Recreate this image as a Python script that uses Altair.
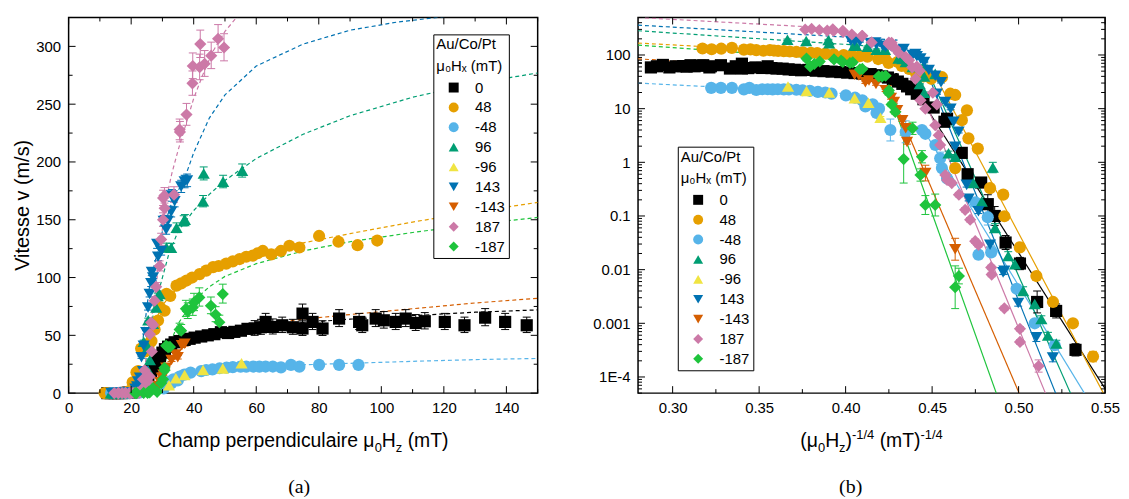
import altair as alt
import pandas as pd

SERIES = ["0", "48", "-48", "96", "-96", "143", "-143", "187", "-187"]
COLORS = ["#000000", "#E69F00", "#56B4E9", "#009E73", "#F0E442", "#0072B2", "#D55E00", "#CC79A7", "#1EC43C"]
SHAPES = ["square", "circle", "circle", "triangle-up", "triangle-up", "triangle-down", "triangle-down", "diamond", "diamond"]
SIZES = [80, 95, 95, 125, 125, 125, 125, 150, 150]
LEGEND_TITLE = ["Au/Co/Pt", "μ₀Hₓ (mT)"]

# ---- measured points: perpendicular field H (mT), velocity v (m/s), relative error e ----
H_0 = [12.4, 13.5, 14.7, 15.9, 17.0, 17.9, 18.5, 19.1, 20.4, 21.0, 22.6, 22.9, 24.2, 25.5, 26.4, 27.2, 27.8, 28.5, 29.2, 30.0,
       30.8, 31.8, 32.8, 33.9, 35.5, 37.1, 38.7, 40.3, 42.4, 44.5, 46.6, 48.7, 51.0, 53.0, 55.1, 57.2, 59.5, 61.5, 63.0, 65.3,
       68.3, 71.7, 74.8, 74.8, 78.0, 81.2, 86.5, 92.9, 93.9, 98.2, 100.8, 104.6, 107.8, 111.0, 113.9, 120.3, 126.6, 133.2, 139.6, 146.5]
V_0 = [3.2e-4, 1.7e-3, 2.5e-3, 0.013, 0.032, 0.10, 0.166, 0.42, 0.60, 1.5, 6.5, 5.7, 10.5, 15, 19, 23, 26, 29, 32, 35,
       38, 40, 42, 44, 45, 46, 47, 48, 49, 50, 51, 52.7, 52, 53, 54, 55.6, 56, 57, 61.6, 57.3,
       58.7, 57, 68.8, 55.9, 61.6, 55.9, 64.5, 61.6, 58.7, 64.5, 63, 61.6, 64.5, 60.7, 62.2, 61.6, 58.7, 65.3, 61.6, 58.7]
E_0 = [0.3, 0.35, 0.6, 0.3, 0.35, 0.5, 0.5, 0.15, 0.1, 0.1] + [0.04] * 22 + [0.07] * 4 + [0.12] * 24

H_48 = [11.5, 12.54, 13.69, 14.75, 15.91, 17.1, 17.19, 18.3, 19.41, 20.32, 20.99, 20.47, 21.7, 21.7, 22.24, 23.19, 24.5, 25.5,
        26.5, 27.5, 28.6, 29.2, 30.7, 31.3, 32.5, 34.5, 36.0, 37.7, 39.5, 41.9, 44.0, 46.2, 48.0, 50.4, 52.5, 54.7, 56.8, 58.9,
        60.5, 62.1, 64.8, 67.9, 70.6, 73.8, 80.1, 86.3, 92.4, 98.7]
V_48 = [2.4e-4, 1.0e-3, 2.5e-3, 7.6e-3, 0.026, 0.099, 0.25, 0.33, 1.8, 2.8, 6.1, 9.3, 0.78, 18, 19, 38.6, 36, 40,
        45, 55, 62.8, 74.5, 71.3, 86, 84, 93, 95, 97.4, 100, 103, 106, 109, 110, 112, 114, 116, 118, 119,
        121, 123, 120, 123, 127.5, 126, 136, 131, 128, 132]
E_48 = [0.25, 0.1, 0.1, 0.1, 0.1, 0.1, 0.05, 0.05, 0.05, 0.05, 0.03, 0.03, 0.1, 0.03, 0.03, 0.03] + [0.02] * 32

H_m48 = [13.59, 14.86, 16.15, 18.2, 19.35, 18.5, 19.64, 22.6, 23.2, 23.4, 23.98, 25.25, 25.7, 28.0, 30.4, 32.35, 32.8, 33.5,
         34.9, 35.5, 37.0, 39.0, 42.4, 44.0, 46.0, 48.3, 50.5, 52.5, 55.0, 56.8, 59.0, 61.0, 63.0, 65.3, 67.9, 71.1, 73.8,
         80.1, 86.5, 92.7]
V_m48 = [3.9e-4, 1.0e-3, 4.4e-3, 0.021, 0.019, 0.095, 0.18, 0.5, 0.78, 1.19, 2.1, 3.4, 4.0, 3.7, 4.0, 10, 8.3, 12,
         11, 14.3, 16, 17.7, 19, 20, 20.5, 21.5, 22, 22.5, 22.9, 22.9, 23, 22.9, 23, 23, 22.3, 24.4, 22.9,
         24.4, 24.4, 24.4]
E_m48 = [0.1, 0.15, 0.1, 0.2, 0.2, 0.4, 0.1, 0.1, 0.1, 0.3, 0.1, 0.1, 0.1, 0.6, 0.6] + [0.03] * 25

H_96 = [13.49, 14.0, 14.42, 14.86, 15.67, 16.27, 16.79, 17.87, 18.06, 19.04, 19.83, 21.69, 22.43, 24.0, 25.4, 25.4,
        25.46, 26.0, 27.0, 28.0, 28.5, 29.1, 31.3, 32.8, 34.5, 36.8, 37.2, 43.0, 43.2, 49.4, 55.5]
V_96 = [4.2e-4, 5.9e-4, 1.2e-3, 2.3e-3, 4.0e-3, 0.0126, 0.018, 0.06, 0.8, 0.187, 0.41, 1.27, 1.47, 44.5, 19.8, 39.8,
        63, 28.7, 60, 74, 84, 85.7, 126, 125.8, 143, 149, 150, 166, 190, 183, 192.5]
E_96 = [0.15, 0.15, 0.15, 0.15, 0.2, 0.2, 0.2, 0.2, 0.25, 0.1, 0.1, 0.1, 0.1] + [0.03] * 18

H_m96 = [32.1, 34.3, 37.1, 43.0, 49.3, 55.3]
V_m96 = [6.8, 12.9, 15.6, 20, 21.3, 25.8]
E_m96 = [0.05, 0.05, 0.05, 0.05, 0.05, 0.05]

H_143 = [13.7, 14.75, 16.03, 17.1, 17.2, 18.3, 19.35, 20.3, 20.5, 21.33, 21.7, 21.87, 22.2, 22.8, 23.3, 23.8, 24.0, 24.8,
         25.4, 25.9, 26.4, 26.6, 27.0, 28.3, 28.6, 29.6, 30.4, 31.2, 31.7, 32.8, 33.0, 33.9, 36.0, 37.1, 37.9]
V_143 = [2.3e-4, 5.5e-4, 2.4e-3, 9.5e-3, 8.9e-3, 0.029, 0.122, 0.21, 0.38, 3.7, 1.95, 5.7, 10, 13.3, 31, 19, 41, 52.7,
         74, 85.7, 95, 104.7, 100, 129, 118, 123, 149, 141.6, 149, 157, 171, 166, 178.8, 183, 184]
E_143 = [0.2, 0.2, 0.15, 0.15, 0.1, 0.1, 0.1, 0.1, 0.1, 0.05, 0.05, 0.05, 0.05, 0.05] + [0.03] * 21

H_m143 = [21.7, 25.25, 27.8, 28.0, 28.5, 29.3, 29.8, 30.3, 31.2, 32.9, 34.2, 34.9, 36.2, 37.1]
V_m143 = [0.024, 0.63, 2.4, 4.3, 6.1, 9.3, 13.3, 15.8, 21.9, 28.7, 33.5, 31, 41.4, 42.7]
E_m143 = [0.6, 0.4, 0.1, 0.05, 0.05, 0.05, 0.05, 0.05, 0.05, 0.05, 0.05, 0.05, 0.05, 0.05]

H_187 = [14.6, 15.9, 15.9, 17.1, 18.16, 18.2, 19.35, 19.66, 20.15, 20.65, 21.3, 22.07, 22.6, 22.8, 23.4, 23.58, 23.8,
         24.0, 24.3, 25.25, 25.9, 26.0, 26.4, 26.6, 27.05, 27.5, 28.0, 29.1, 29.6, 30.2, 30.2, 30.65, 30.7, 33.7, 35.5,
         35.6, 37.7, 39.6, 39.7, 41.9, 42.1, 43.5, 45.6, 47.8, 49.7]
V_187 = [1.6e-4, 7.9e-4, 4.5e-4, 1.9e-3, 8.1e-3, 0.011, 0.029, 0.034, 0.085, 0.13, 0.25, 0.41, 0.47, 0.58, 2.1, 3.2, 12,
         4.9, 19.8, 10, 14.3, 51, 61, 36, 59, 80, 92, 110, 133, 150, 168.8, 171, 160, 171.7, 228,
         226, 241, 268, 283, 282, 302, 285, 292, 306.6, 299]
E_187 = [0.3, 0.1, 0.1, 0.1, 0.1, 0.1, 0.1, 0.1, 0.1, 0.1, 0.1, 0.1, 0.1, 0.1] + [0.04] * 31

H_m187 = [21.3, 21.7, 24.0, 25.25, 25.7, 25.9, 27.0, 28.3, 29.6, 30.2, 30.65, 30.7, 31.2, 31.8, 32.4, 35.5, 36.0, 37.5,
          38.1, 39.7, 40.1, 41.8, 45.5, 47.0, 48.2, 49.3]
V_m187 = [0.0076, 0.0047, 0.16, 0.16, 1.27, 0.58, 4.3, 1.15, 8.7, 12, 21.9, 19.8, 41, 39.8, 40, 55, 54, 73,
          71, 74, 78.5, 82.8, 75.6, 68, 61.3, 85.7]
E_m187 = [0.4, 1.5, 0.6, 0.5, 0.3, 0.3, 0.3, 1.8, 0.1, 0.1] + [0.1] * 16

# ---- fitted curves, panel (a): (H, v) ----
FITL_0 = [(27, 22), (30, 34), (35, 43), (40, 48), (50, 53), (60, 57), (75, 61), (90, 64), (110, 67), (130, 70), (150, 72)]
FITL_48 = [(22, 36), (26, 52), (30, 76), (33, 86), (36, 93), (40, 100), (50, 112), (60, 121), (75, 130), (90, 138),
           (110, 148), (130, 157), (150, 165)]
FITL_m48 = [(31, 8), (33, 11), (35, 14), (40, 18), (50, 21), (60, 22.7), (75, 24.5), (90, 25.8), (110, 27.5), (130, 29), (150, 30)]
FITL_96 = [(25, 40), (28, 80), (32, 120), (35, 140), (40, 158), (45, 172), (50, 184), (60, 203), (75, 224), (90, 240),
           (110, 256), (130, 268), (150, 277)]
FITL_143 = [(23, 30), (26, 95), (30, 140), (33, 165), (37, 185), (40, 208), (45, 238), (50, 258), (60, 283), (75, 302),
            (90, 314), (105, 321), (121, 326)]
FITL_m143 = [(30, 10), (33, 27), (37, 42), (40, 47), (50, 55), (60, 59), (75, 64), (90, 68), (110, 73), (130, 78), (150, 82)]
FITL_187 = [(24, 15), (26, 55), (28, 92), (29, 120), (31, 165), (33, 190), (35, 210), (37, 228), (40, 255), (43, 276),
            (46, 295), (50, 313), (54, 326)]
FITL_m187 = [(30, 15), (32, 40), (35, 60), (40, 80), (45, 92), (50, 101), (60, 112), (75, 123), (90, 131), (110, 139),
             (130, 146), (150, 152)]

# ---- fitted lines, panel (b): (H^-1/4, v) ----
DASHR_0 = [(0.28, 72), (0.43, 45)]
DASHR_48 = [(0.28, 167), (0.42, 95)]
DASHR_m48 = [(0.28, 30), (0.40, 19)]
DASHR_96 = [(0.28, 283), (0.41, 150)]
DASHR_143 = [(0.28, 360), (0.43, 190)]
DASHR_m143 = [(0.28, 85), (0.40, 48)]
DASHR_187 = [(0.28, 500), (0.375, 340)]
DASHR_m187 = [(0.28, 153), (0.40, 80)]

CREEP_0 = [(0.442, 18), (0.5516, 5e-5)]
CREEP_48 = [(0.4553, 25), (0.549, 5e-5)]
CREEP_m48 = [(0.445, 4), (0.538, 5e-5)]
CREEP_96 = [(0.447, 55), (0.530, 5e-5)]
CREEP_143 = [(0.445, 70), (0.5214, 5e-5)]
CREEP_m143 = [(0.428, 14), (0.5003, 5e-5)]
CREEP_187 = [(0.440, 40), (0.5155, 5e-5)]
CREEP_m187 = [(0.425, 20), (0.4871, 5e-5)]

# ---- tick positions ----
LX_MAJOR = [0, 20, 40, 60, 80, 100, 120, 140]
LX_MINOR = [10, 30, 50, 70, 90, 110, 130, 150]
LY_MAJOR = [0, 50, 100, 150, 200, 250, 300]
LY_MINOR = [25, 75, 125, 175, 225, 275, 325]
RX_MAJOR = [0.30, 0.35, 0.40, 0.45, 0.50, 0.55]
RX_MINOR = [0.325, 0.375, 0.425, 0.475, 0.525]
RY_MAJOR = [1e-4, 1e-3, 1e-2, 1e-1, 1, 10, 100]
RY_MINOR = [m * 10.0 ** d for d in range(-5, 3) for m in range(2, 10) if 5e-5 <= m * 10.0 ** d <= 500]

POINTS = [("0", H_0, V_0, E_0), ("48", H_48, V_48, E_48), ("-48", H_m48, V_m48, E_m48),
          ("96", H_96, V_96, E_96), ("-96", H_m96, V_m96, E_m96), ("143", H_143, V_143, E_143),
          ("-143", H_m143, V_m143, E_m143), ("187", H_187, V_187, E_187), ("-187", H_m187, V_m187, E_m187)]
pts = pd.DataFrame([{"s": s, "H": h, "v": v, "e": e}
                    for s, hs, vs, es in POINTS for h, v, e in zip(hs, vs, es)])


def pairs_df(items, xname):
    rows = []
    for s, pairs in items:
        for i, (a, b) in enumerate(pairs):
            rows.append({"s": s, xname: a, "v": b, "i": i})
    return pd.DataFrame(rows)


fitl = pairs_df([("0", FITL_0), ("48", FITL_48), ("-48", FITL_m48), ("96", FITL_96), ("143", FITL_143),
                 ("-143", FITL_m143), ("187", FITL_187), ("-187", FITL_m187)], "H")
dashr = pairs_df([("0", DASHR_0), ("48", DASHR_48), ("-48", DASHR_m48), ("96", DASHR_96), ("143", DASHR_143),
                  ("-143", DASHR_m143), ("187", DASHR_187), ("-187", DASHR_m187)], "x")
creep = pairs_df([("0", CREEP_0), ("48", CREEP_48), ("-48", CREEP_m48), ("96", CREEP_96), ("143", CREEP_143),
                  ("-143", CREEP_m143), ("187", CREEP_187), ("-187", CREEP_m187)], "x")

FONT = "Liberation Sans"
W1, W2, HT = 472, 470, 378
CSCALE = alt.Scale(domain=SERIES, range=COLORS)
SHSCALE = alt.Scale(domain=SERIES, range=SHAPES)
# stroke / size scales listed in reverse order so their (disabled) legends are never merged with the colour legend
STROKE = alt.Stroke("s:N", scale=alt.Scale(domain=SERIES[::-1], range=COLORS[::-1]), legend=None)
SIZE = alt.Size("s:N", scale=alt.Scale(domain=SERIES[::-1], range=SIZES[::-1]), legend=None)

sxL = alt.Scale(domain=[0, 150], nice=False, zero=False)
syL = alt.Scale(domain=[0, 325], nice=False, zero=False)
sxR = alt.Scale(domain=[0.28, 0.55], nice=False, zero=False)
syR = alt.Scale(type="log", domain=[5e-5, 500], nice=False)

AW = {' ': 278, '(': 333, ')': 333, '/': 278, '-': 333, '0': 556, '1': 556, '4': 556, 'μ': 576, 'H': 722,
      'T': 611, 'C': 722, 'a': 556, 'c': 500, 'd': 556, 'e': 556, 'h': 556, 'i': 222, 'l': 222, 'm': 833,
      'n': 556, 'p': 556, 'r': 333, 'u': 556, 'z': 500}


def tw(t, size):
    return sum(AW.get(c, 556) for c in t) * size / 1000.0


def text_layer(txt, x, y, size, font=FONT, align="left", baseline="alphabetic", angle=0):
    return alt.Chart(alt.Data(values=[{}])).mark_text(
        text=txt, fontSize=size, font=font, align=align, baseline=baseline, angle=angle, color="black"
    ).encode(x=alt.value(x), y=alt.value(y))


def rich(pieces, cx, y0):
    total = sum(tw(t, s) + g for t, s, dy, g in pieces)
    cur = cx - total / 2
    out = []
    for t, s, dy, g in pieces:
        cur += g
        out.append(text_layer(t, cur, y0 + dy, s))
        cur += tw(t, s)
    return out


axis_common = dict(ticks=False, domain=False, grid=False, labelFontSize=15, labelFont=FONT,
                   labelColor="black", labelFlush=False, labelOverlap=False, labelBound=False, labelPadding=8)


def make_panel(pre, xf, sx, sy, axx, axy, lines, lx, ly):
    def X(f):
        return alt.X(f, type="quantitative", scale=sx, axis=axx, title=None)

    def Y(f):
        return alt.Y(f, type="quantitative", scale=sy, axis=axy, title=None)

    layers = []
    for df, dash in lines:
        kw = dict(strokeWidth=1.2, clip=True)
        if dash:
            kw["strokeDash"] = [4, 3]
        xcol = "H" if "H" in df.columns else "x"
        layers.append(alt.Chart(df).mark_line(**kw).encode(
            x=X(xcol), y=Y("v"), stroke=STROKE, detail="s:N", order="i:Q"))
    base = pre(alt.Chart(pts))
    b = base.transform_filter("datum.e > 0").transform_calculate(
        lo="datum.v/(1+datum.e)", hi="datum.v*(1+datum.e)")
    layers.append(b.mark_rule(strokeWidth=1).encode(x=X(xf), y=Y("lo"), y2="hi:Q", stroke=STROKE))
    for yy in ("lo", "hi"):
        layers.append(b.mark_rule(strokeWidth=1, xOffset=-4, x2Offset=4).encode(
            x=X(xf), x2=alt.X2(xf), y=Y(yy), stroke=STROKE))
    leg = alt.Legend(orient="none", legendX=lx, legendY=ly)
    layers.append(base.mark_point(filled=True, opacity=1, strokeWidth=0).encode(
        x=X(xf), y=Y("v"), size=SIZE,
        color=alt.Color("s:N", scale=CSCALE, legend=leg, title=LEGEND_TITLE),
        shape=alt.Shape("s:N", scale=SHSCALE, legend=leg, title=LEGEND_TITLE)))
    return layers, X, Y


def tick_layers(X, Y, xvals, yvals, L, W, H):
    dx = pd.DataFrame({"t": xvals})
    dy = pd.DataFrame({"t": yvals})
    m = dict(color="black", strokeWidth=1)
    return [
        alt.Chart(dx).mark_rule(**m).encode(x=X("t"), y=alt.value(H), y2=alt.value(H - L)),
        alt.Chart(dx).mark_rule(**m).encode(x=X("t"), y=alt.value(0), y2=alt.value(L)),
        alt.Chart(dy).mark_rule(**m).encode(y=Y("t"), x=alt.value(0), x2=alt.value(L)),
        alt.Chart(dy).mark_rule(**m).encode(y=Y("t"), x=alt.value(W), x2=alt.value(W - L)),
    ]


# ---------------- panel (a) ----------------
axLx = alt.Axis(values=LX_MAJOR, **axis_common)
axLy = alt.Axis(values=LY_MAJOR, **axis_common)
layersL, XL, YL = make_panel(lambda c: c, "H", sxL, syL, axLx, axLy, [(fitl, True)], 367, 17)
layersL += tick_layers(XL, YL, LX_MAJOR, LY_MAJOR, 7, W1, HT)
layersL += tick_layers(XL, YL, LX_MINOR, LY_MINOR, 4, W1, HT)
layersL += rich([("Champ perpendiculaire μ", 19.5, 0, 0), ("0", 13, 5, 0), ("H", 19.5, 0, 0),
                 ("z", 13, 5, 0), ("(mT)", 19.5, 0, 5.4)], 236, 432)
layersL.append(text_layer("Vitesse v (m/s)", -46, 189, 20, align="center", baseline="middle", angle=270))
layersL.append(text_layer("(a)", 232, 473, 20, font="Liberation Serif", align="center", baseline="middle"))
layersL.append(alt.Chart(alt.Data(values=[{}])).mark_rule(strokeOpacity=0, strokeWidth=1).encode(
    x=alt.value(-60), x2=alt.value(-59), y=alt.value(-7), y2=alt.value(-6)))
left = alt.layer(*layersL).properties(width=W1, height=HT)

# ---------------- panel (b) ----------------
axRx = alt.Axis(values=RX_MAJOR, format=".2f", **axis_common)
axRy = alt.Axis(values=RY_MAJOR, labelExpr="datum.value < 0.0005 ? '1E-4' : format(datum.value, '~g')",
                **axis_common)
layersR, XR, YR = make_panel(lambda c: c.transform_calculate(xr="pow(datum.H, -0.25)"), "xr", sxR, syR,
                             axRx, axRy, [(dashr, True), (creep, False)], 40, 130)
layersR += tick_layers(XR, YR, RX_MAJOR, RY_MAJOR, 7, W2, HT)
layersR += tick_layers(XR, YR, RX_MINOR, RY_MINOR, 4, W2, HT)
layersR += rich([("(μ", 19.5, 0, 0), ("0", 13, 5, 0), ("H", 19.5, 0, 0), ("z", 13, 5, 0), (")", 19.5, 0, 0),
                 ("-1/4", 13, -8, 0), ("(mT)", 19.5, 0, 5.4), ("-1/4", 13, -8, 0)], 235, 432)
layersR.append(text_layer("(b)", 214, 473, 20, font="Liberation Serif", align="center", baseline="middle"))
right = alt.layer(*layersR).properties(width=W2, height=HT)

chart = alt.hconcat(left, right, spacing=101, bounds="flush", padding=0).resolve_scale(
    color="independent", shape="independent", stroke="independent", size="independent"
).resolve_legend(color="independent", shape="independent").configure(
    font=FONT
).configure_view(stroke="black", strokeWidth=1.5).configure_legend(
    strokeColor="black", strokeWidth=1, padding=3, fillColor="white", cornerRadius=0,
    titleFont=FONT, titleFontSize=15, titleFontWeight="normal", titleLineHeight=22, titlePadding=6,
    titleColor="black", labelFont=FONT, labelFontSize=15, labelColor="black",
    symbolSize=100, symbolOffset=10, labelOffset=14, rowPadding=4, symbolStrokeWidth=0
)

chart.save("out.html", embed_options={"renderer": "svg", "actions": False})
